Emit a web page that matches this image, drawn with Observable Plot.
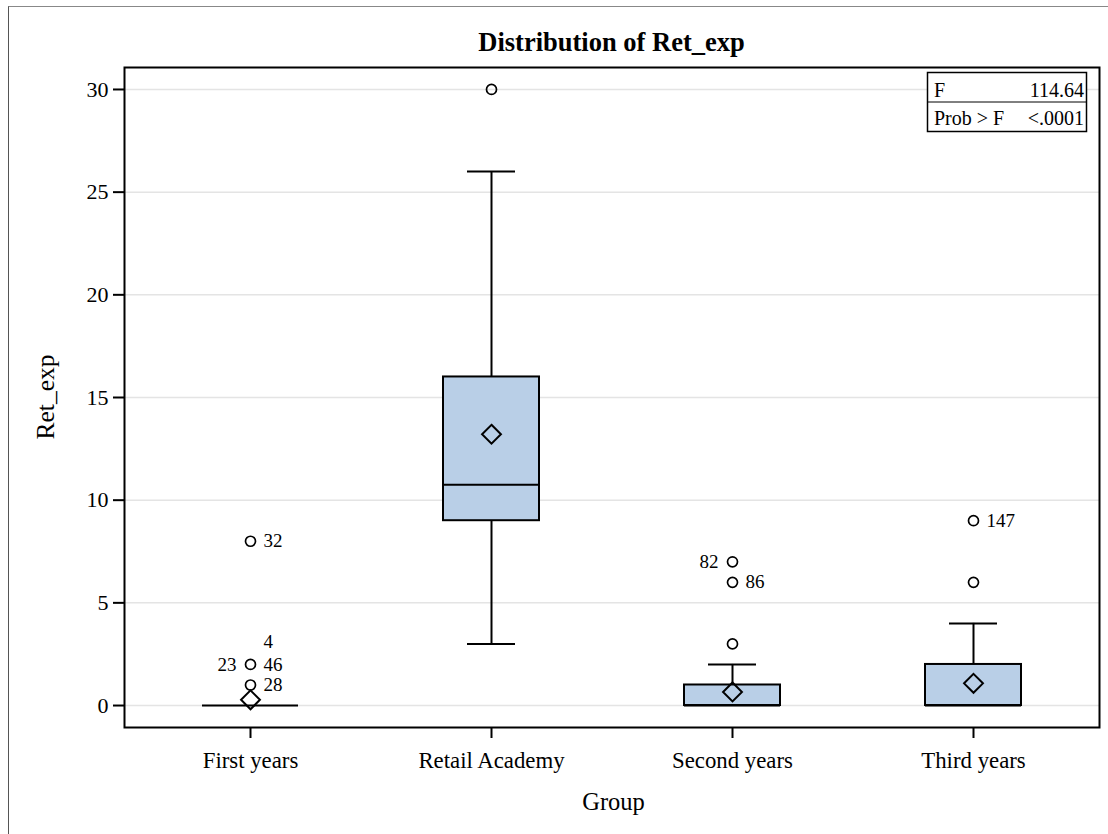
<!DOCTYPE html>
<html><head><meta charset="utf-8">
<script src="https://cdn.jsdelivr.net/npm/d3@7"></script>
<script src="https://cdn.jsdelivr.net/npm/@observablehq/plot@0.6"></script>
<style>
html,body{margin:0;padding:0;background:#fff;overflow:hidden;}
#wrap{position:relative;width:1108px;height:834px;overflow:hidden;}
#border{position:absolute;left:8px;top:6px;width:1200px;height:1000px;border-left:1px solid #555;border-top:1px solid #888;pointer-events:none;}
#wrap svg{position:absolute;left:0;top:0;}
</style></head>
<body>
<div id="wrap"><div id="border"></div></div>
<script>
// ---- data ----
const groups = ["First years", "Retail Academy", "Second years", "Third years"];
const q1 = [0, 9, 0, 0];
const medians = [0, 10.75, 0, 0];
const q3 = [0, 16, 1, 2];
const whiskerLow = [0, 3, 0, 0];
const whiskerHigh = [0, 26, 2, 4];
const means = [0.28, 13.21, 0.66, 1.08];

const outlierGroups = ["First years", "First years", "First years", "Retail Academy", "Second years", "Second years", "Second years", "Third years", "Third years"];
const outlierValues = [8, 2, 1, 30, 7, 6, 3, 9, 6];

const labelGroups = ["First years", "First years", "First years", "First years", "First years", "Second years", "Second years", "Third years"];
const labelValues = [8, 2, 2, 2, 1, 7, 6, 9];
const labelTexts = ["32", "46", "23", "4", "28", "82", "86", "147"];

const yTicks = [0, 5, 10, 15, 20, 25, 30];
const statNames = ["F", "Prob > F"];
const statValues = ["114.64", "<.0001"];

const titleText = "Distribution of Ret_exp";
const xLabel = "Group";
const yLabel = "Ret_exp";

// ---- build tables ----
const boxes = groups.map((g, i) => ({group: g, q1: q1[i], median: medians[i], q3: q3[i], lo: whiskerLow[i], hi: whiskerHigh[i], mean: means[i]}));
const outliers = outlierGroups.map((g, i) => ({group: g, value: outlierValues[i]}));
const labels = labelGroups.map((g, i) => ({group: g, value: labelValues[i], text: labelTexts[i]}));
const placement = {"23": "left", "82": "left", "4": "above"};
const labRight = labels.filter(d => !placement[d.text]);
const labLeft = labels.filter(d => placement[d.text] === "left");
const labAbove = labels.filter(d => placement[d.text] === "above");

const FONT = '"Liberation Serif", "Times New Roman", Times, serif';
const W = 1108, H = 834, ML = 124, MR = 9, MT = 67, MB = 107;

const chart = Plot.plot({
  width: W, height: H,
  marginLeft: ML, marginRight: MR, marginTop: MT, marginBottom: MB,
  x: {type: "band", domain: groups, paddingInner: 0.6, paddingOuter: 0.317, label: null},
  y: {domain: [-1.07, 31.07], label: null},
  style: {fontFamily: FONT, fontSize: "22px", color: "#000", background: "transparent", overflow: "visible"},
  marks: [
    Plot.gridY(yTicks, {stroke: "#e4e4e4", strokeOpacity: 1, strokeWidth: 1.5}),
    Plot.barY(boxes, {x: "group", y1: "q1", y2: "q3", fill: "#b9cfe7", stroke: "#000", strokeWidth: 2}),
    Plot.tickY(boxes, {x: "group", y: "median", stroke: "#000", strokeWidth: 2}),
    Plot.ruleX(boxes, {x: "group", y1: "q3", y2: "hi", stroke: "#000", strokeWidth: 2}),
    Plot.ruleX(boxes, {x: "group", y1: "lo", y2: "q1", stroke: "#000", strokeWidth: 2}),
    Plot.tickY(boxes.filter(d => d.hi > d.q3), {x: "group", y: "hi", insetLeft: 24, insetRight: 24, stroke: "#000", strokeWidth: 2}),
    Plot.tickY(boxes.filter(d => d.lo < d.q1), {x: "group", y: "lo", insetLeft: 24, insetRight: 24, stroke: "#000", strokeWidth: 2}),
    Plot.dot(outliers, {x: "group", y: "value", r: 5, stroke: "#000", strokeWidth: 1.7, fill: "none"}),
    Plot.dot(boxes, {x: "group", y: "mean", symbol: "diamond2", r: 8.5, stroke: "#000", strokeWidth: 2, fill: "none"}),
    Plot.text(labRight, {x: "group", y: "value", text: "text", textAnchor: "start", dx: 13, fontSize: 19, fill: "#000"}),
    Plot.text(labLeft, {x: "group", y: "value", text: "text", textAnchor: "end", dx: -14, fontSize: 19, fill: "#000"}),
    Plot.text(labAbove, {x: "group", y: "value", text: "text", textAnchor: "start", dx: 13, dy: -23, fontSize: 19, fill: "#000"}),
    Plot.frame({stroke: "#000", strokeWidth: 2}),
    Plot.axisY(yTicks, {tickSize: 11, tickPadding: 5, strokeWidth: 2, fontSize: 22, label: null}),
    Plot.axisX({tickSize: 11, tickPadding: 13, strokeWidth: 2, fontSize: 22.8, label: null})
  ]
});

const svg = d3.select(chart);
svg.append("text").attr("x", (ML + W - MR) / 2).attr("y", 51).attr("text-anchor", "middle")
  .attr("font-family", FONT).attr("font-size", 26.5).attr("font-weight", "bold").attr("fill", "#000").text(titleText);
svg.append("text").attr("x", (ML + W - MR) / 2 + 2).attr("y", 810).attr("text-anchor", "middle")
  .attr("font-family", FONT).attr("font-size", 24.5).attr("fill", "#000").text(xLabel);
svg.append("text").attr("transform", `translate(53.5,${(MT + H - MB) / 2}) rotate(-90)`).attr("text-anchor", "middle")
  .attr("font-family", FONT).attr("font-size", 25.5).attr("fill", "#000").text(yLabel);

// stats inset
const ins = svg.append("g").attr("font-family", FONT).attr("font-size", 20).attr("fill", "#000");
ins.append("rect").attr("x", 927.5).attr("y", 72.5).attr("width", 159).attr("height", 59)
  .attr("fill", "#fff").attr("stroke", "#000").attr("stroke-width", 1.5);
ins.append("line").attr("x1", 927.5).attr("x2", 1086.5).attr("y1", 102).attr("y2", 102)
  .attr("stroke", "#000").attr("stroke-width", 1);
statNames.forEach((n, i) => {
  ins.append("text").attr("x", 934).attr("y", 97 + i * 28).attr("text-anchor", "start").text(n);
  ins.append("text").attr("x", 1084).attr("y", 97 + i * 28).attr("text-anchor", "end").text(statValues[i]);
});

document.getElementById("wrap").appendChild(chart);
</script>
</body></html>
